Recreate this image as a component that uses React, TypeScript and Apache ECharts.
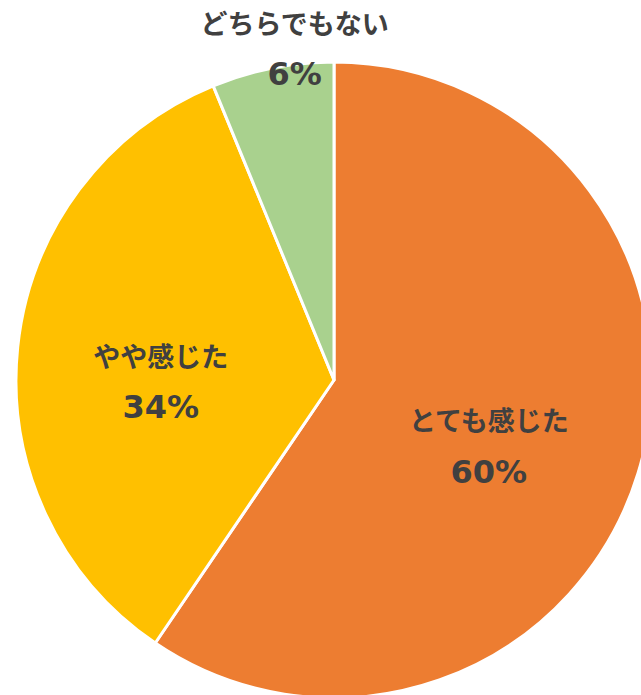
import React, { useEffect, useRef } from "react";
import * as echarts from "echarts";

const categories = ["とても感じた", "やや感じた", "どちらでもない"];
const shares = [59.5, 34.3, 6.2];
const sliceColors = ["#ED7D31", "#FFC000", "#A9D18E"];

export default function App() {
  const ref = useRef<HTMLDivElement>(null);
  useEffect(() => {
    if (!ref.current) return;
    const chart = echarts.init(ref.current, undefined, { renderer: "svg" });
    const labelOffsets: Record<string, number[]> = {
      "とても感じた": [0, 18],
      "やや感じた": [-12, 18],
      "どちらでもない": [-8, -173],
    };
    chart.setOption({
      animation: false,
      backgroundColor: "#ffffff",
      series: [
        {
          type: "pie",
          center: [334, 380],
          radius: 318,
          startAngle: 90,
          clockwise: true,
          avoidLabelOverlap: false,
          itemStyle: { borderColor: "#ffffff", borderWidth: 3 },
          label: {
            show: true,
            position: "inside",
            formatter: (p: any) => `{n|${p.name}}\n{p|${Math.round(p.percent)}%}`,
            rich: {
              n: {
                fontFamily: "Noto Sans CJK JP",
                fontWeight: "bold",
                fontSize: 27,
                color: "#404040",
                lineHeight: 52,
              },
              p: {
                fontFamily: "DejaVu Sans",
                fontWeight: "bold",
                fontSize: 32,
                color: "#404040",
                lineHeight: 52,
              },
            },
          },
          labelLine: { show: false },
          emphasis: { disabled: true },
          data: categories.map((name, i) => ({
            name,
            value: shares[i],
            itemStyle: { color: sliceColors[i] },
            label: { offset: labelOffsets[name] },
          })),
        },
      ],
    });
    return () => chart.dispose();
  }, []);
  return (
    <div
      ref={ref}
      style={{ position: "fixed", left: 0, top: 0, width: 641, height: 695 }}
    />
  );
}
